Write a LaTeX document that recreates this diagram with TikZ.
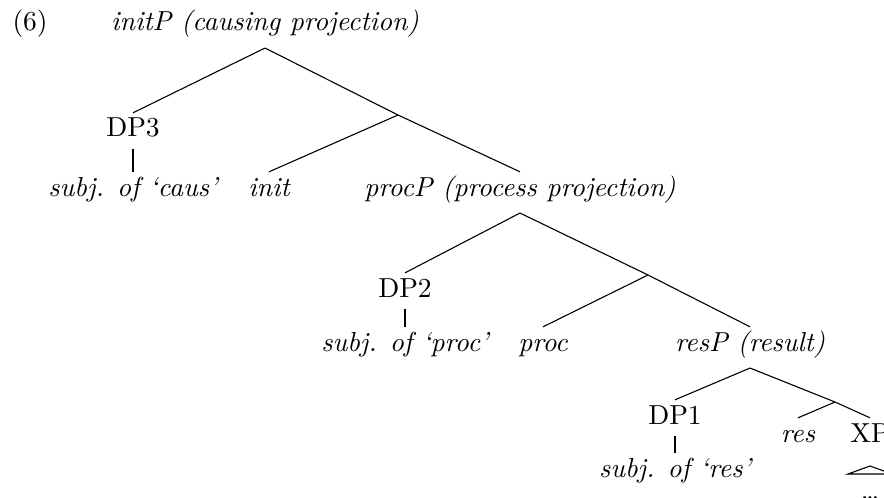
\documentclass[tikz,border=0pt]{standalone}
\usepackage{tikz}

\begin{document}
\begin{tikzpicture}[x=0.364pt, y=-0.364pt,
    lbl/.style={inner xsep=0pt, inner ysep=1.7pt, text height=6.9pt, text depth=2.5pt, anchor=base},
    phr/.style={lbl, text depth=4.3pt, font=\itshape}]
    \useasboundingbox (0,0) rectangle (884,497);

    \node[lbl, anchor=base west] (ex) at (12,31) {(6)};
    \node[phr] (initP) at (265,31) {initP (causing projection)};
    \node[lbl] (dp3) at (133,137) {DP3};
    \node[lbl, font=\itshape] (caussubj) at (133,196) {subj. of `caus'};
    \coordinate (initbar) at (398,115);
    \node[lbl, font=\itshape] (init) at (269,196) {init};
    \node[phr] (procP) at (520,196) {procP (process projection)};

    \node[lbl] (dp2) at (405,297) {DP2};
    \node[lbl, font=\itshape] (procsubj) at (405,351) {subj. of `proc'};
    \coordinate (procbar) at (648,275);
    \node[lbl, font=\itshape] (proc) at (543,351) {proc};
    \node[phr] (resP) at (750,351) {resP (result)};

    \node[lbl] (dp1) at (675,424) {DP1};
    \node[lbl, font=\itshape] (ressubj) at (675,477) {subj. of `res'};
    \coordinate (resbar) at (835,402);
    \node[lbl, font=\itshape] (res) at (798,442) {res};
    \node[lbl] (xp) at (870,442) {XP};
    \coordinate (roof) at (870,466);
    \node[lbl] (dots) at (870,499) {\dots};

    \draw (initP.south) -- (dp3.north);
    \draw (initP.south) -- (initbar);
    \draw (initbar) -- (init.north);
    \draw (initbar) -- (procP.north);
    \draw (dp3.south) -- (caussubj.north);

    \draw (procP.south) -- (dp2.north);
    \draw (procP.south) -- (procbar);
    \draw (procbar) -- (proc.north);
    \draw (procbar) -- (resP.north);
    \draw (dp2.south) -- (procsubj.north);

    \draw (resP.south) -- (dp1.north);
    \draw (resP.south) -- (resbar);
    \draw (resbar) -- (res.north);
    \draw (resbar) -- (xp.north);
    \draw (dp1.south) -- (ressubj.north);
    \draw (roof) -- ++(-22,8) -- ++(44,0) -- cycle;
\end{tikzpicture}
\end{document}
